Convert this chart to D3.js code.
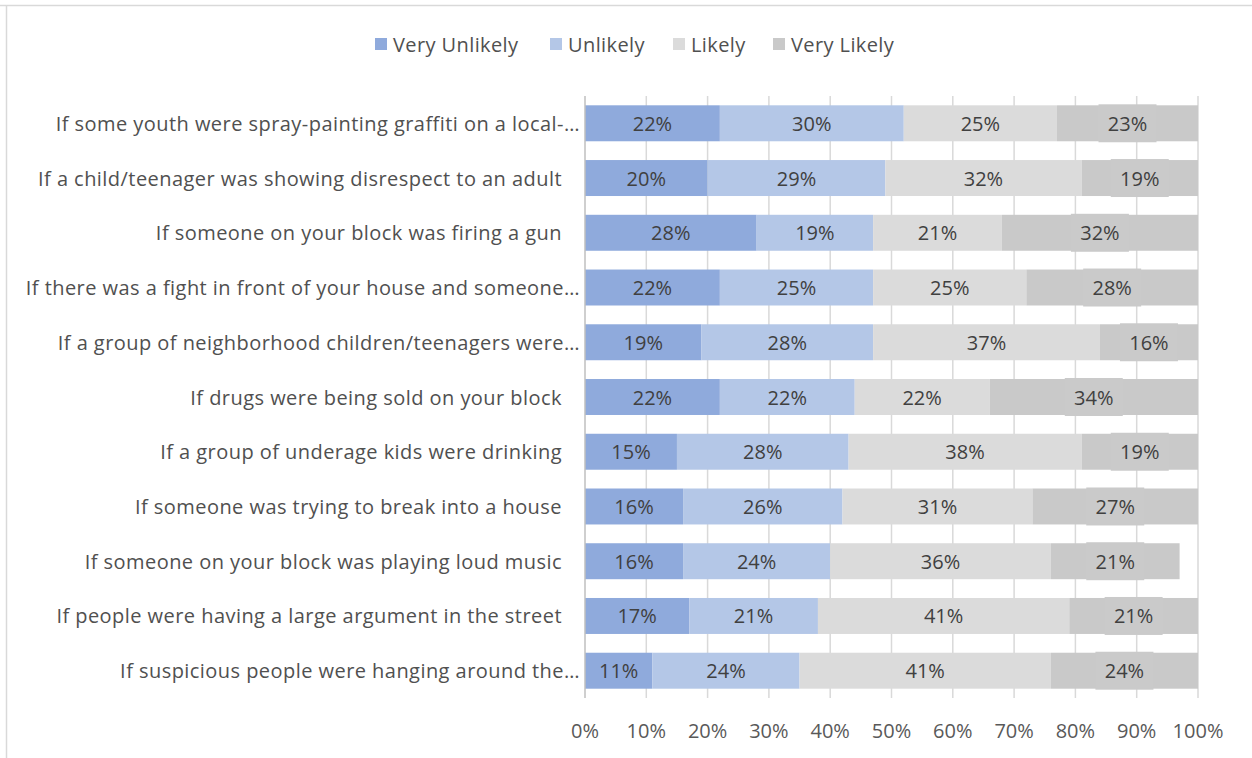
<!DOCTYPE html>
<html>
<head>
<meta charset="utf-8">
<script src="https://cdn.jsdelivr.net/npm/d3@7"></script>
<style>
  html, body { margin: 0; padding: 0; background: #fff; }
  svg { display: block; font-family: "Open Sans", Lato, sans-serif; }
</style>
</head>
<body>
<svg id="chart" width="1252" height="758"></svg>
<script>
// Survey items (top to bottom)
const categories = [
  "If some youth were spray-painting graffiti on a local-…",
  "If a child/teenager was showing disrespect to an adult",
  "If someone on your block was firing a gun",
  "If there was a fight in front of your house and someone…",
  "If a group of neighborhood children/teenagers were…",
  "If drugs were being sold on your block",
  "If a group of underage kids were drinking",
  "If someone was trying to break into a house",
  "If someone on your block was playing loud music",
  "If people were having a large argument in the street",
  "If suspicious people were hanging around the…"
];

const seriesNames = ["Very Unlikely", "Unlikely", "Likely", "Very Likely"];

// Percent of respondents per answer
const veryUnlikely = [22, 20, 28, 22, 19, 22, 15, 16, 16, 17, 11];
const unlikely     = [30, 29, 19, 25, 28, 22, 28, 26, 24, 21, 24];
const likely       = [25, 32, 21, 25, 37, 22, 38, 31, 36, 41, 41];
const veryLikely   = [23, 19, 32, 28, 16, 34, 19, 27, 21, 21, 24];

const tickValues = [0, 10, 20, 30, 40, 50, 60, 70, 80, 90, 100];

const colors = ["#8faadc", "#b4c7e7", "#dbdbdb", "#c9c9c9"];

const svg = d3.select("#chart");

// outer chart frame
svg.append("line").attr("x1", 0).attr("x2", 1252).attr("y1", 5.5).attr("y2", 5.5)
  .attr("stroke", "#d9d9d9").attr("stroke-width", 1.5);
svg.append("line").attr("x1", 6.5).attr("x2", 6.5).attr("y1", 5.5).attr("y2", 758)
  .attr("stroke", "#d9d9d9").attr("stroke-width", 1.5);

const x = d3.scaleLinear().domain([0, 100]).range([585, 1198]);
const y = d3.scaleBand().domain(categories).range([96, 698]).paddingInner(0.343).paddingOuter(0.17);

// gridlines
svg.append("g").selectAll("line").data(tickValues.slice(1)).join("line")
  .attr("x1", d => x(d)).attr("x2", d => x(d))
  .attr("y1", 96).attr("y2", 698)
  .attr("stroke", "#d9d9d9").attr("stroke-width", 1.5);

// stacked data
const rows = categories.map((c, i) => ({
  cat: c,
  "Very Unlikely": veryUnlikely[i],
  "Unlikely": unlikely[i],
  "Likely": likely[i],
  "Very Likely": veryLikely[i]
}));
const stacked = d3.stack().keys(seriesNames)(rows);

const layers = svg.append("g").selectAll("g").data(stacked).join("g")
  .attr("fill", (d, i) => colors[i]);

layers.selectAll("rect").data(d => d).join("rect")
  .attr("x", d => x(d[0]))
  .attr("width", d => x(d[1]) - x(d[0]))
  .attr("y", d => y(d.data.cat))
  .attr("height", y.bandwidth());

// value labels
const labelG = svg.append("g");
stacked.forEach((layer, li) => {
  layer.forEach(d => {
    const cx = (x(d[0]) + x(d[1])) / 2;
    const cy = y(d.data.cat) + y.bandwidth() / 2;
    if (li === 3) {
      labelG.append("rect")
        .attr("x", cx - 29).attr("width", 58)
        .attr("y", y(d.data.cat) - 1).attr("height", y.bandwidth() + 2)
        .attr("fill", "#cacaca");
    }
    labelG.append("text")
      .attr("x", cx).attr("y", cy)
      .attr("text-anchor", "middle").attr("dominant-baseline", "central")
      .attr("font-size", 20).attr("fill", "#404040")
      .text(d[1] - d[0] + "%");
  });
});

// value axis line at 0%
svg.append("line").attr("x1", x(0)).attr("x2", x(0)).attr("y1", 96).attr("y2", 698)
  .attr("stroke", "#bfbfbf").attr("stroke-width", 1.5);

// x tick labels
svg.append("g").selectAll("text").data(tickValues).join("text")
  .attr("x", d => x(d)).attr("y", 730)
  .attr("text-anchor", "middle").attr("dominant-baseline", "central")
  .attr("font-size", 20).attr("fill", "#595959")
  .text(d => d + "%");

// category labels
svg.append("g").selectAll("text").data(categories).join("text")
  .attr("x", d => d.endsWith("…") ? 580 : 562)
  .attr("y", d => y(d) + y.bandwidth() / 2)
  .attr("text-anchor", "end").attr("dominant-baseline", "central")
  .attr("font-size", 20).attr("letter-spacing", 0.45).attr("fill", "#505050")
  .text(d => d);

// legend
const legendX = [375, 550, 673, 773];
const legend = svg.append("g").selectAll("g").data(seriesNames).join("g")
  .attr("transform", (d, i) => `translate(${legendX[i]},44)`);
legend.append("rect").attr("x", 0).attr("y", -6).attr("width", 12).attr("height", 12)
  .attr("fill", (d, i) => colors[i]);
legend.append("text").attr("x", 18).attr("y", 0).attr("dominant-baseline", "central")
  .attr("font-size", 20).attr("letter-spacing", 0.4).attr("fill", "#505050").text(d => d);
</script>
</body>
</html>
